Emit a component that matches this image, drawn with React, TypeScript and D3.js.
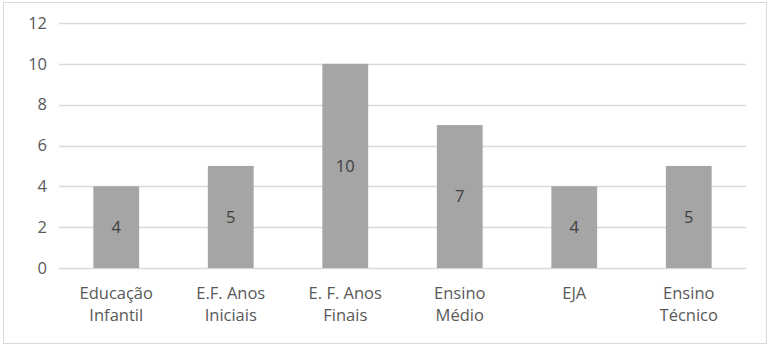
import { useRef, useEffect } from "react";
import * as d3 from "d3";

const categories = [
	["Educação", "Infantil"],
	["E.F. Anos", "Iniciais"],
	["E. F. Anos", "Finais"],
	["Ensino", "Médio"],
	["EJA"],
	["Ensino", "Técnico"],
];
const values = [4, 5, 10, 7, 4, 5];
const yTicks = [0, 2, 4, 6, 8, 10, 12];

const App = () => {
	const svgRef = useRef<SVGSVGElement>(null);

	useEffect(() => {
		const font = "'Open Sans', sans-serif";
		const fs = 16.5;
		const svg = d3.select(svgRef.current);
		svg.selectAll("*").remove();

		// outer frame
		svg.append("rect")
			.attr("x", 3.5)
			.attr("y", 2.5)
			.attr("width", 763)
			.attr("height", 341)
			.attr("fill", "white")
			.attr("stroke", "#d9d9d9");

		const xScale = d3.scaleBand<number>()
			.domain(d3.range(values.length))
			.range([59, 746])
			.paddingInner(0.6)
			.paddingOuter(0.3);

		const yScale = d3.scaleLinear()
			.domain([0, 12])
			.range([268, 23]);

		// gridlines
		svg.append("g")
			.selectAll("line")
			.data(yTicks)
			.join("line")
			.attr("x1", 59)
			.attr("x2", 746)
			.attr("y1", (d) => Math.round(yScale(d)) + 0.5)
			.attr("y2", (d) => Math.round(yScale(d)) + 0.5)
			.attr("stroke", "#d9d9d9")
			.attr("stroke-width", 1.5);

		// y labels
		svg.append("g")
			.selectAll("text")
			.data(yTicks)
			.join("text")
			.attr("x", 47)
			.attr("y", (d) => yScale(d))
			.attr("dy", "0.35em")
			.attr("text-anchor", "end")
			.attr("font-family", font)
			.attr("font-size", fs)
			.attr("fill", "#595959")
			.text((d) => d);

		// bars
		svg.append("g")
			.selectAll("rect")
			.data(values)
			.join("rect")
			.attr("x", (d, i) => xScale(i)!)
			.attr("y", (d) => yScale(d))
			.attr("width", xScale.bandwidth())
			.attr("height", (d) => yScale(0) - yScale(d))
			.attr("fill", "#a5a5a5");

		// value labels
		svg.append("g")
			.selectAll("text")
			.data(values)
			.join("text")
			.attr("x", (d, i) => xScale(i)! + xScale.bandwidth() / 2)
			.attr("y", (d) => (yScale(d) + yScale(0)) / 2)
			.attr("dy", "0.35em")
			.attr("text-anchor", "middle")
			.attr("font-family", font)
			.attr("font-size", fs)
			.attr("fill", "#404040")
			.text((d) => d);

		// category labels, two lines each
		const cat = svg.append("g")
			.selectAll("text")
			.data(categories)
			.join("text")
			.attr("x", (d, i) => xScale(i)! + xScale.bandwidth() / 2)
			.attr("y", 299)
			.attr("text-anchor", "middle")
			.attr("font-family", font)
			.attr("font-size", fs)
			.attr("fill", "#595959");
		cat.selectAll("tspan")
			.data((d) => d)
			.join("tspan")
			.attr("x", function () {
				return (this.parentNode as SVGTextElement).getAttribute("x");
			})
			.attr("dy", (d, i) => (i === 0 ? 0 : 22))
			.text((d) => d);
	}, []);

	return (
		<svg
			ref={svgRef}
			width={771}
			height={355}
			style={{ position: "absolute", left: 0, top: 0 }}
		></svg>
	);
};

export default App;
